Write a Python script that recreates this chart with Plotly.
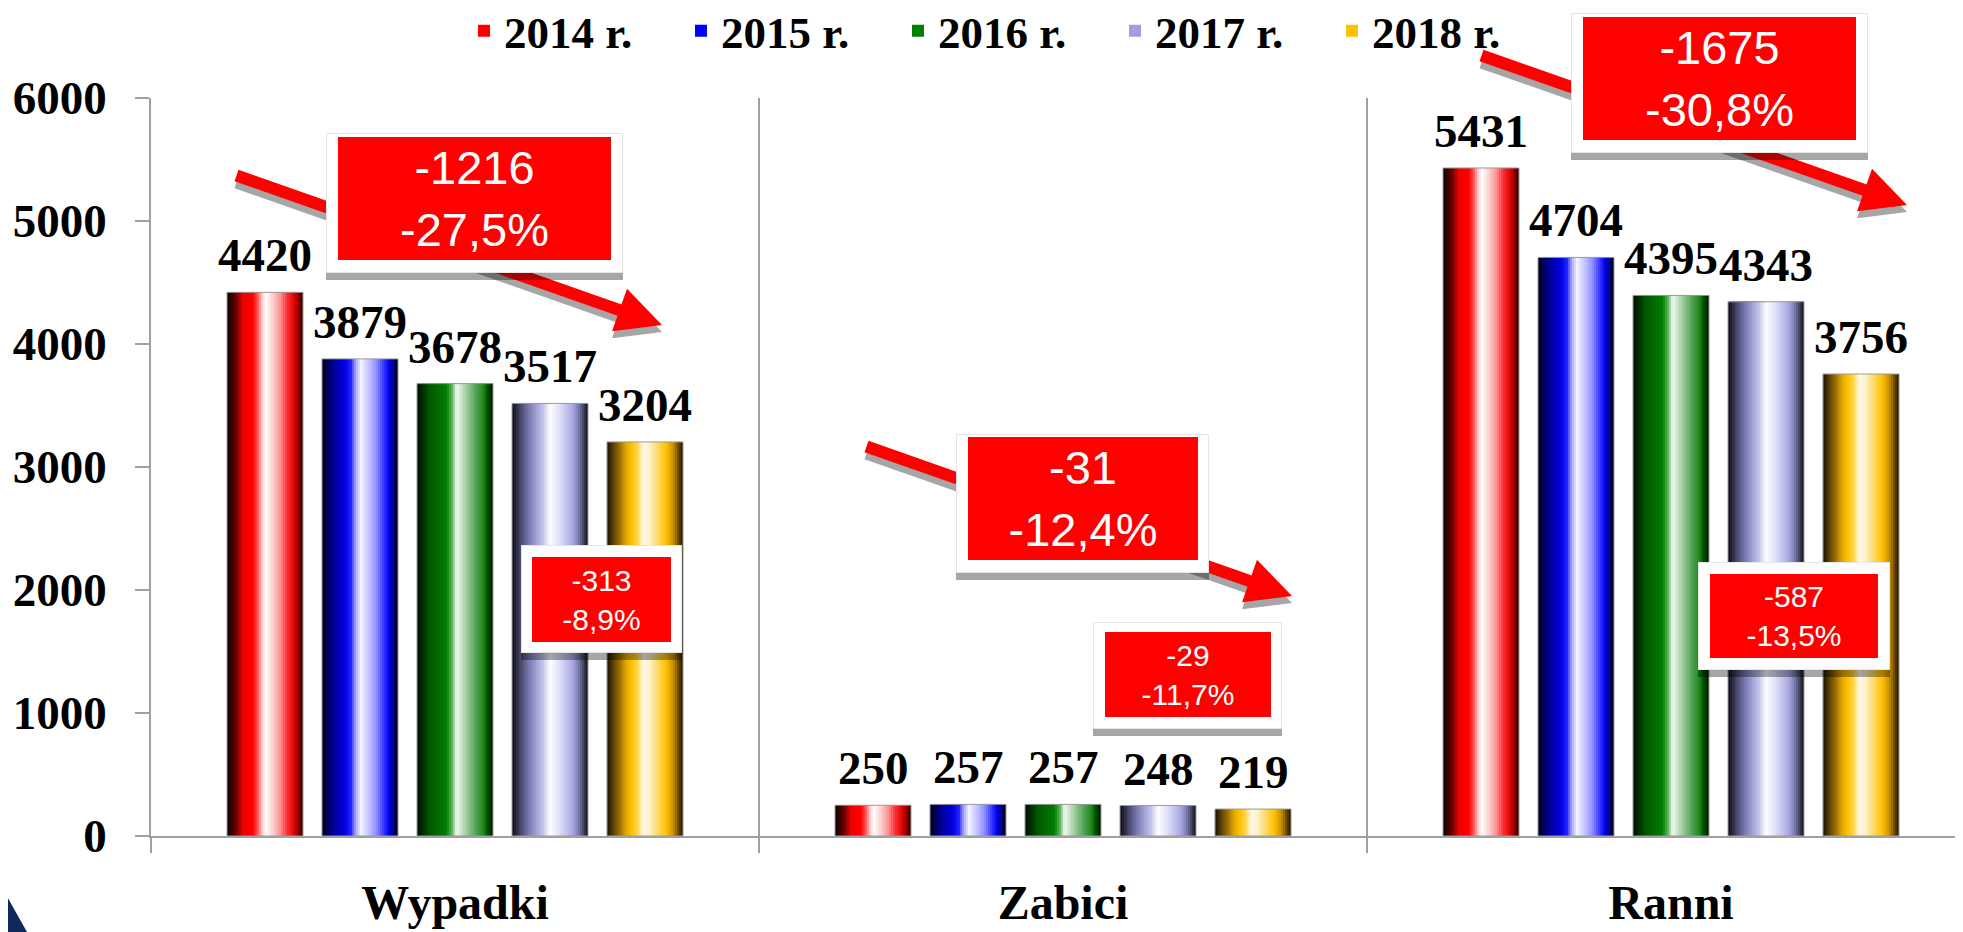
import plotly.graph_objects as go

# ---------------- data ----------------
categories = ["Wypadki", "Zabici", "Ranni"]
years = ["2014 r.", "2015 r.", "2016 r.", "2017 r.", "2018 r."]
v2014 = [4420, 250, 5431]
v2015 = [3879, 257, 4704]
v2016 = [3678, 257, 4395]
v2017 = [3517, 248, 4343]
v2018 = [3204, 219, 3756]
series_values = [v2014, v2015, v2016, v2017, v2018]

change_total_abs = ["-1216", "-31", "-1675"]
change_total_pct = ["-27,5%", "-12,4%", "-30,8%"]
change_last_abs = ["-313", "-29", "-587"]
change_last_pct = ["-8,9%", "-11,7%", "-13,5%"]

y_ticks = [0, 1000, 2000, 3000, 4000, 5000, 6000]

# ---------------- styling ----------------
main_colors = ["#ff0000", "#0000ff", "#008000", "#a0a0d8", "#ffc000"]
gradients = [
    [(0, '#100000'), (0.06, '#380000'), (0.12, '#700000'), (0.21, '#f00000'), (0.34, '#ff0000'),
     (0.40, '#ff5050'), (0.46, '#ffc8c8'), (0.51, '#ffffff'), (0.58, '#ffdada'), (0.69, '#ff9a9a'),
     (0.81, '#ff2020'), (0.91, '#c00000'), (1, '#200000')],
    [(0, '#000018'), (0.15, '#000090'), (0.30, '#0000e0'), (0.38, '#2020ff'), (0.44, '#a0a0ff'),
     (0.51, '#f4f4ff'), (0.61, '#c8c8ff'), (0.72, '#8c8cff'), (0.82, '#3030ff'), (0.88, '#0000f0'),
     (0.94, '#000090'), (1, '#000010')],
    [(0, '#000c00'), (0.06, '#002800'), (0.17, '#005a00'), (0.30, '#006e00'), (0.39, '#008000'),
     (0.46, '#60b060'), (0.52, '#f4faf4'), (0.59, '#c4e2c4'), (0.67, '#90c890'), (0.78, '#50a050'),
     (0.87, '#208a20'), (0.93, '#005000'), (1, '#001000')],
    [(0, '#0c0c14'), (0.10, '#404060'), (0.21, '#7474a8'), (0.32, '#a0a0d8'), (0.41, '#c4c4ee'),
     (0.50, '#ffffff'), (0.61, '#e4e4f8'), (0.71, '#c4c4ec'), (0.80, '#a8a8e0'), (0.89, '#7070a4'),
     (0.96, '#303048'), (1, '#0c0c14')],
    [(0, '#141000'), (0.08, '#5a4000'), (0.17, '#a07000'), (0.25, '#e0a800'), (0.32, '#ffc000'),
     (0.39, '#ffd040'), (0.48, '#fffaf0'), (0.56, '#fff0c4'), (0.67, '#ffd860'), (0.78, '#ffc000'),
     (0.87, '#c89000'), (0.95, '#604000'), (1, '#181000')],
]


def hex2rgb(h):
    h = h.lstrip('#')
    return tuple(int(h[i:i + 2], 16) for i in (0, 2, 4))


def grad_color(stops, t):
    for (t0, c0), (t1, c1) in zip(stops[:-1], stops[1:]):
        if t0 <= t <= t1:
            f = (t - t0) / (t1 - t0) if t1 > t0 else 0
            a, b = hex2rgb(c0), hex2rgb(c1)
            return 'rgb(%d,%d,%d)' % tuple(round(a[k] + (b[k] - a[k]) * f) for k in range(3))
    return stops[-1][1]


SERIF = "Liberation Serif"
SANS = "Liberation Sans"
AXIS_GRAY = "#a0a0a0"

# the page body adds an 8px offset; figure is sized to fit the 1963x932 window
OFF = 8
W, H = 1963 - OFF, 932 - OFF
ML, MR, MT, MB = 151 - OFF, 0, 98 - OFF, 932 - 836
PW, PH = W - ML - MR, H - MT - MB
CAT_PX = 608.0                      # pixel width of one category
SLOT = 95.0 / CAT_PX                # slot per series (category units)
BW = 76.0 / CAT_PX                  # bar width (category units)
N_STRIPS = 38


def px(x):   # screen px -> paper
    return (x - OFF - ML) / PW


def py(y):
    return (MT + PH - (y - OFF)) / PH


fig = go.Figure()

for j, (name, vals) in enumerate(zip(years, series_values)):
    left = (j - 2) * SLOT - BW / 2
    # base bar (legend entry)
    fig.add_trace(go.Bar(
        x=categories, y=vals, name=name, legendgroup=name,
        offset=left, width=BW,
        marker=dict(color=main_colors[j], line=dict(width=0)),
        hovertemplate="%{x}, " + name + ": %{y}<extra></extra>",
    ))
    # cylinder-like gradient made of overlaid strips
    for i in range(N_STRIPS):
        fig.add_trace(go.Bar(
            x=categories, y=vals, legendgroup=name, showlegend=False,
            offset=left + i * BW / N_STRIPS, width=BW * (1 - i / N_STRIPS),
            marker=dict(color=grad_color(gradients[j], (i + 0.5) / N_STRIPS), line=dict(width=0)),
            hoverinfo='skip',
        ))
    # thin outline
    fig.add_trace(go.Bar(
        x=categories, y=vals, legendgroup=name, showlegend=False,
        offset=left, width=BW,
        marker=dict(color='rgba(0,0,0,0)', line=dict(color='#9a9a9a', width=1)),
        hoverinfo='skip',
    ))

annotations = []

# value labels above bars
for j, vals in enumerate(series_values):
    for k, v in enumerate(vals):
        annotations.append(dict(
            x=categories[k], y=v, xref='x', yref='y',
            xshift=(j - 2) * SLOT * CAT_PX, yshift=9,
            xanchor='center', yanchor='bottom', showarrow=False,
            text=str(v), font=dict(family=SERIF, size=47, color='black', weight='bold'),
        ))

# arrows (tip positions in px), tail vector
arrow_tips = [(662, 325), (1292, 596), (1907, 205)]
ARROW_DX, ARROW_DY = -427, -150
for color, dy in (("#a6a6a6", 7), ("#ff0000", 0)):
    for (tx, ty) in arrow_tips:
        annotations.append(dict(
            xref='paper', yref='paper', x=px(tx), y=py(ty + dy),
            ax=ARROW_DX, ay=ARROW_DY, axref='pixel', ayref='pixel',
            text=' ', font=dict(size=1), showarrow=True,
            arrowhead=2, arrowsize=0.75, arrowwidth=12, arrowcolor=color,
            standoff=0, startstandoff=0,
        ))


def add_box(outer, red, lines, fsize):
    x0, y0, x1, y1 = outer
    # shadow
    annotations.append(dict(
        xref='paper', yref='paper', x=px((x0 + x1) / 2), y=py((y0 + y1) / 2 + 7),
        xanchor='center', yanchor='middle', showarrow=False, text=' ', font=dict(size=1),
        width=x1 - x0, height=y1 - y0, bgcolor='rgba(0,0,0,0.35)', borderwidth=0, borderpad=0,
    ))
    # white frame
    annotations.append(dict(
        xref='paper', yref='paper', x=px((x0 + x1) / 2), y=py((y0 + y1) / 2),
        xanchor='center', yanchor='middle', showarrow=False, text=' ', font=dict(size=1),
        width=x1 - x0 - 2, height=y1 - y0 - 2, bgcolor='white', bordercolor='#e4e4e4',
        borderwidth=1, borderpad=0,
    ))
    rx0, ry0, rx1, ry1 = red
    annotations.append(dict(
        xref='paper', yref='paper', x=px((rx0 + rx1) / 2), y=py((ry0 + ry1) / 2),
        xanchor='center', yanchor='middle', showarrow=False,
        text='<br>'.join(lines), font=dict(family=SANS, size=fsize, color='white'),
        width=rx1 - rx0, height=ry1 - ry0, bgcolor='#ff0000', borderwidth=0, borderpad=0,
    ))


big_boxes = [((326, 133, 623, 273), (338, 137, 611, 260)),
             ((956, 434, 1209, 573), (968, 437, 1198, 560)),
             ((1571, 13, 1868, 153), (1583, 17, 1856, 140))]
small_boxes = [((521, 545, 682, 653), (532, 557, 671, 642)),
               ((1093, 622, 1282, 729), (1105, 632, 1271, 717)),
               ((1698, 562, 1890, 670), (1710, 574, 1878, 658))]

for k in range(3):
    add_box(big_boxes[k][0], big_boxes[k][1], [change_total_abs[k], change_total_pct[k]], 47)
for k in range(3):
    add_box(small_boxes[k][0], small_boxes[k][1], [change_last_abs[k], change_last_pct[k]], 30)

# logo corner (decoration)
tri = [(0, 902), (5, 893), (27, 932), (0, 932)]
path = "M " + " L ".join("%.5f,%.5f" % (px(x), py(y)) for x, y in tri) + " Z"
shapes = [dict(type='path', xref='paper', yref='paper', path=path,
               fillcolor='#10295a', line=dict(width=0), layer='above')]

fig.update_layout(
    width=W, height=H,
    margin=dict(l=ML, r=MR, t=MT, b=MB, pad=0, autoexpand=False),
    paper_bgcolor='white', plot_bgcolor='white',
    barmode='overlay',
    showlegend=True,
    legend=dict(
        orientation='h', x=px(464), xanchor='left', y=py(31), yanchor='middle',
        font=dict(family=SERIF, size=45, color='black', weight='bold'),
        entrywidth=172, entrywidthmode='pixels', bgcolor='rgba(0,0,0,0)',
        traceorder='normal',
    ),
    xaxis=dict(
        type='category', categoryorder='array', categoryarray=categories,
        range=[-0.5, -0.5 + PW / CAT_PX],
        tickson='boundaries', ticks='outside', ticklen=15, tickwidth=1.5, tickcolor=AXIS_GRAY,
        showline=True, linecolor=AXIS_GRAY, linewidth=1.5,
        showgrid=True, gridcolor=AXIS_GRAY, gridwidth=1.5,
        tickfont=dict(family=SERIF, size=48, color='black', weight='bold'),
        ticklabelstandoff=24, automargin=False, fixedrange=True,
    ),
    yaxis=dict(
        range=[0, 6000], tickvals=y_ticks, ticktext=[str(t) for t in y_ticks],
        ticks='outside', ticklen=14, tickwidth=1.5, tickcolor=AXIS_GRAY,
        showline=True, linecolor=AXIS_GRAY, linewidth=1.5,
        showgrid=False, zeroline=False,
        tickfont=dict(family=SERIF, size=47, color='black', weight='bold'),
        ticklabelstandoff=19, automargin=False, fixedrange=True,
    ),
    annotations=annotations,
    shapes=shapes,
)

fig.write_html("out.html")
